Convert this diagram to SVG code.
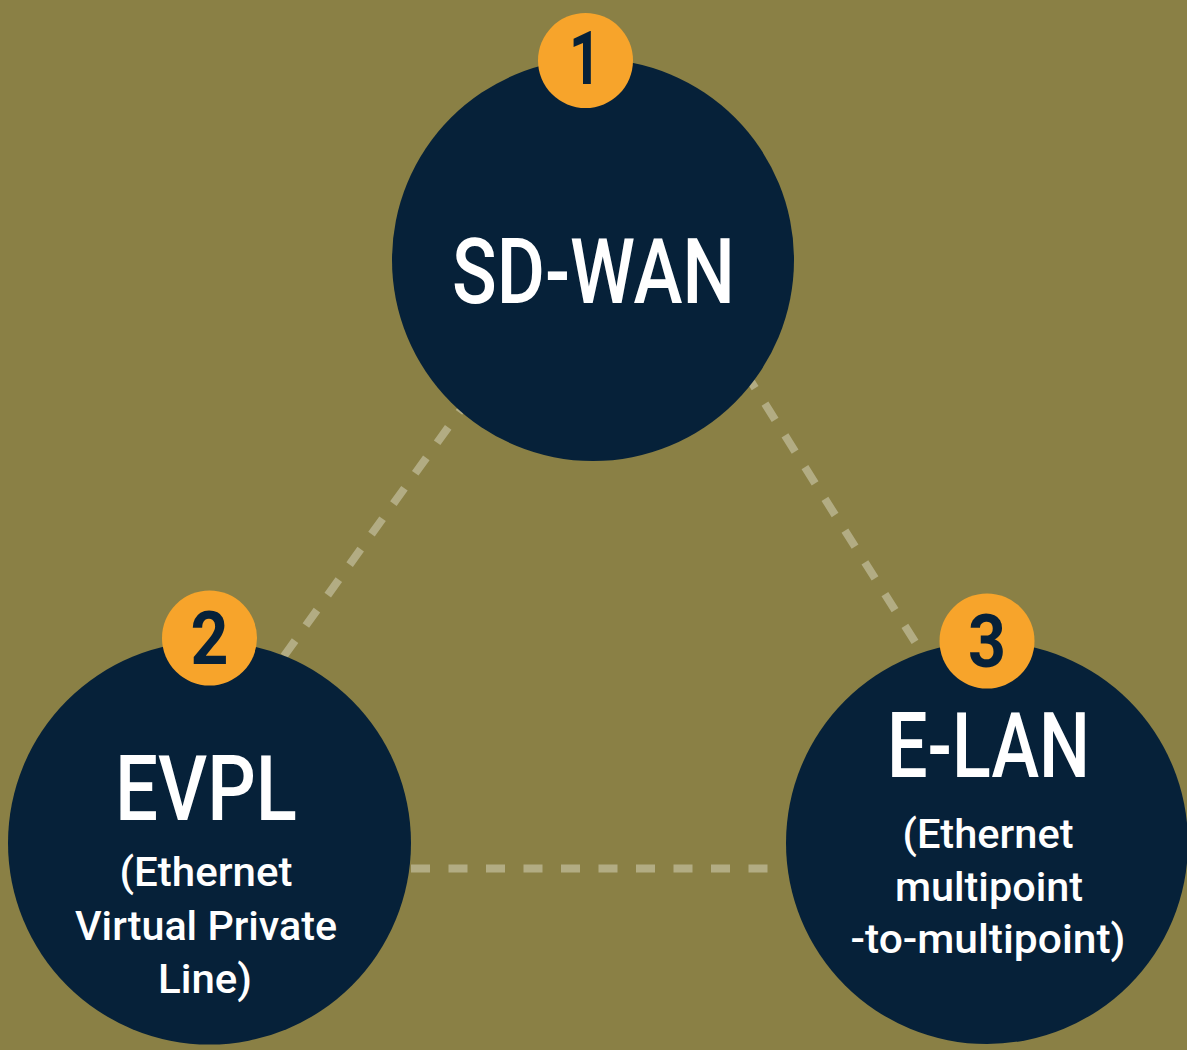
<svg xmlns="http://www.w3.org/2000/svg" width="1187" height="1050" viewBox="0 0 1187 1050">
<style>
.bg{fill:#8a8045}
.node{fill:#062139}
.badge{fill:#f7a42b}
.num{font-family:Roboto,"Liberation Sans",sans-serif;font-weight:bold;font-size:74px;fill:#062139;text-anchor:middle}
.title{font-family:Roboto,"Liberation Sans",sans-serif;font-weight:500;font-size:91px;fill:#ffffff;text-anchor:middle}
.sub{font-family:Roboto,"Liberation Sans",sans-serif;font-weight:500;font-size:40px;fill:#ffffff;text-anchor:middle}
.conn{stroke:#b2ac83;stroke-width:8;stroke-dasharray:19 18.5;fill:none}
</style>
<rect class="bg" x="0" y="0" width="1187" height="1050"/>
<g id="connectors">
<line class="conn" x1="411" y1="868.5" x2="786" y2="868.5"/>
<line class="conn" x1="284" y1="656" x2="470" y2="397"/>
<line class="conn" x1="745" y1="372" x2="922" y2="653"/>
</g>
<g id="node-sdwan">
<circle class="node" cx="593" cy="260" r="201"/>
<text class="title" x="593.5" y="303" textLength="283" lengthAdjust="spacingAndGlyphs">SD-WAN</text>
<circle class="badge" cx="585.5" cy="60.5" r="47.5"/>
<text class="num" x="585" y="84" textLength="32" lengthAdjust="spacingAndGlyphs">1</text>
</g>
<g id="node-evpl">
<circle class="node" cx="209.5" cy="843" r="201.5"/>
<text class="title" x="206" y="820" textLength="182" lengthAdjust="spacingAndGlyphs">EVPL</text>
<text class="sub" x="206" y="886" textLength="173" lengthAdjust="spacingAndGlyphs">(Ethernet</text>
<text class="sub" x="206" y="940" textLength="262" lengthAdjust="spacingAndGlyphs">Virtual Private</text>
<text class="sub" x="205" y="993" textLength="94" lengthAdjust="spacingAndGlyphs">Line)</text>
<circle class="badge" cx="209.5" cy="638" r="47.5"/>
<text class="num" x="209.5" y="664" textLength="38" lengthAdjust="spacingAndGlyphs">2</text>
</g>
<g id="node-elan">
<circle class="node" cx="987" cy="843" r="201"/>
<text class="title" x="988.5" y="777" textLength="203" lengthAdjust="spacingAndGlyphs">E-LAN</text>
<text class="sub" x="988" y="848" textLength="171" lengthAdjust="spacingAndGlyphs">(Ethernet</text>
<text class="sub" x="989" y="901" textLength="188" lengthAdjust="spacingAndGlyphs">multipoint</text>
<text class="sub" x="988" y="953" textLength="275" lengthAdjust="spacingAndGlyphs">-to-multipoint)</text>
<circle class="badge" cx="987" cy="641" r="47.5"/>
<text class="num" x="987" y="667" textLength="38" lengthAdjust="spacingAndGlyphs">3</text>
</g>
</svg>
